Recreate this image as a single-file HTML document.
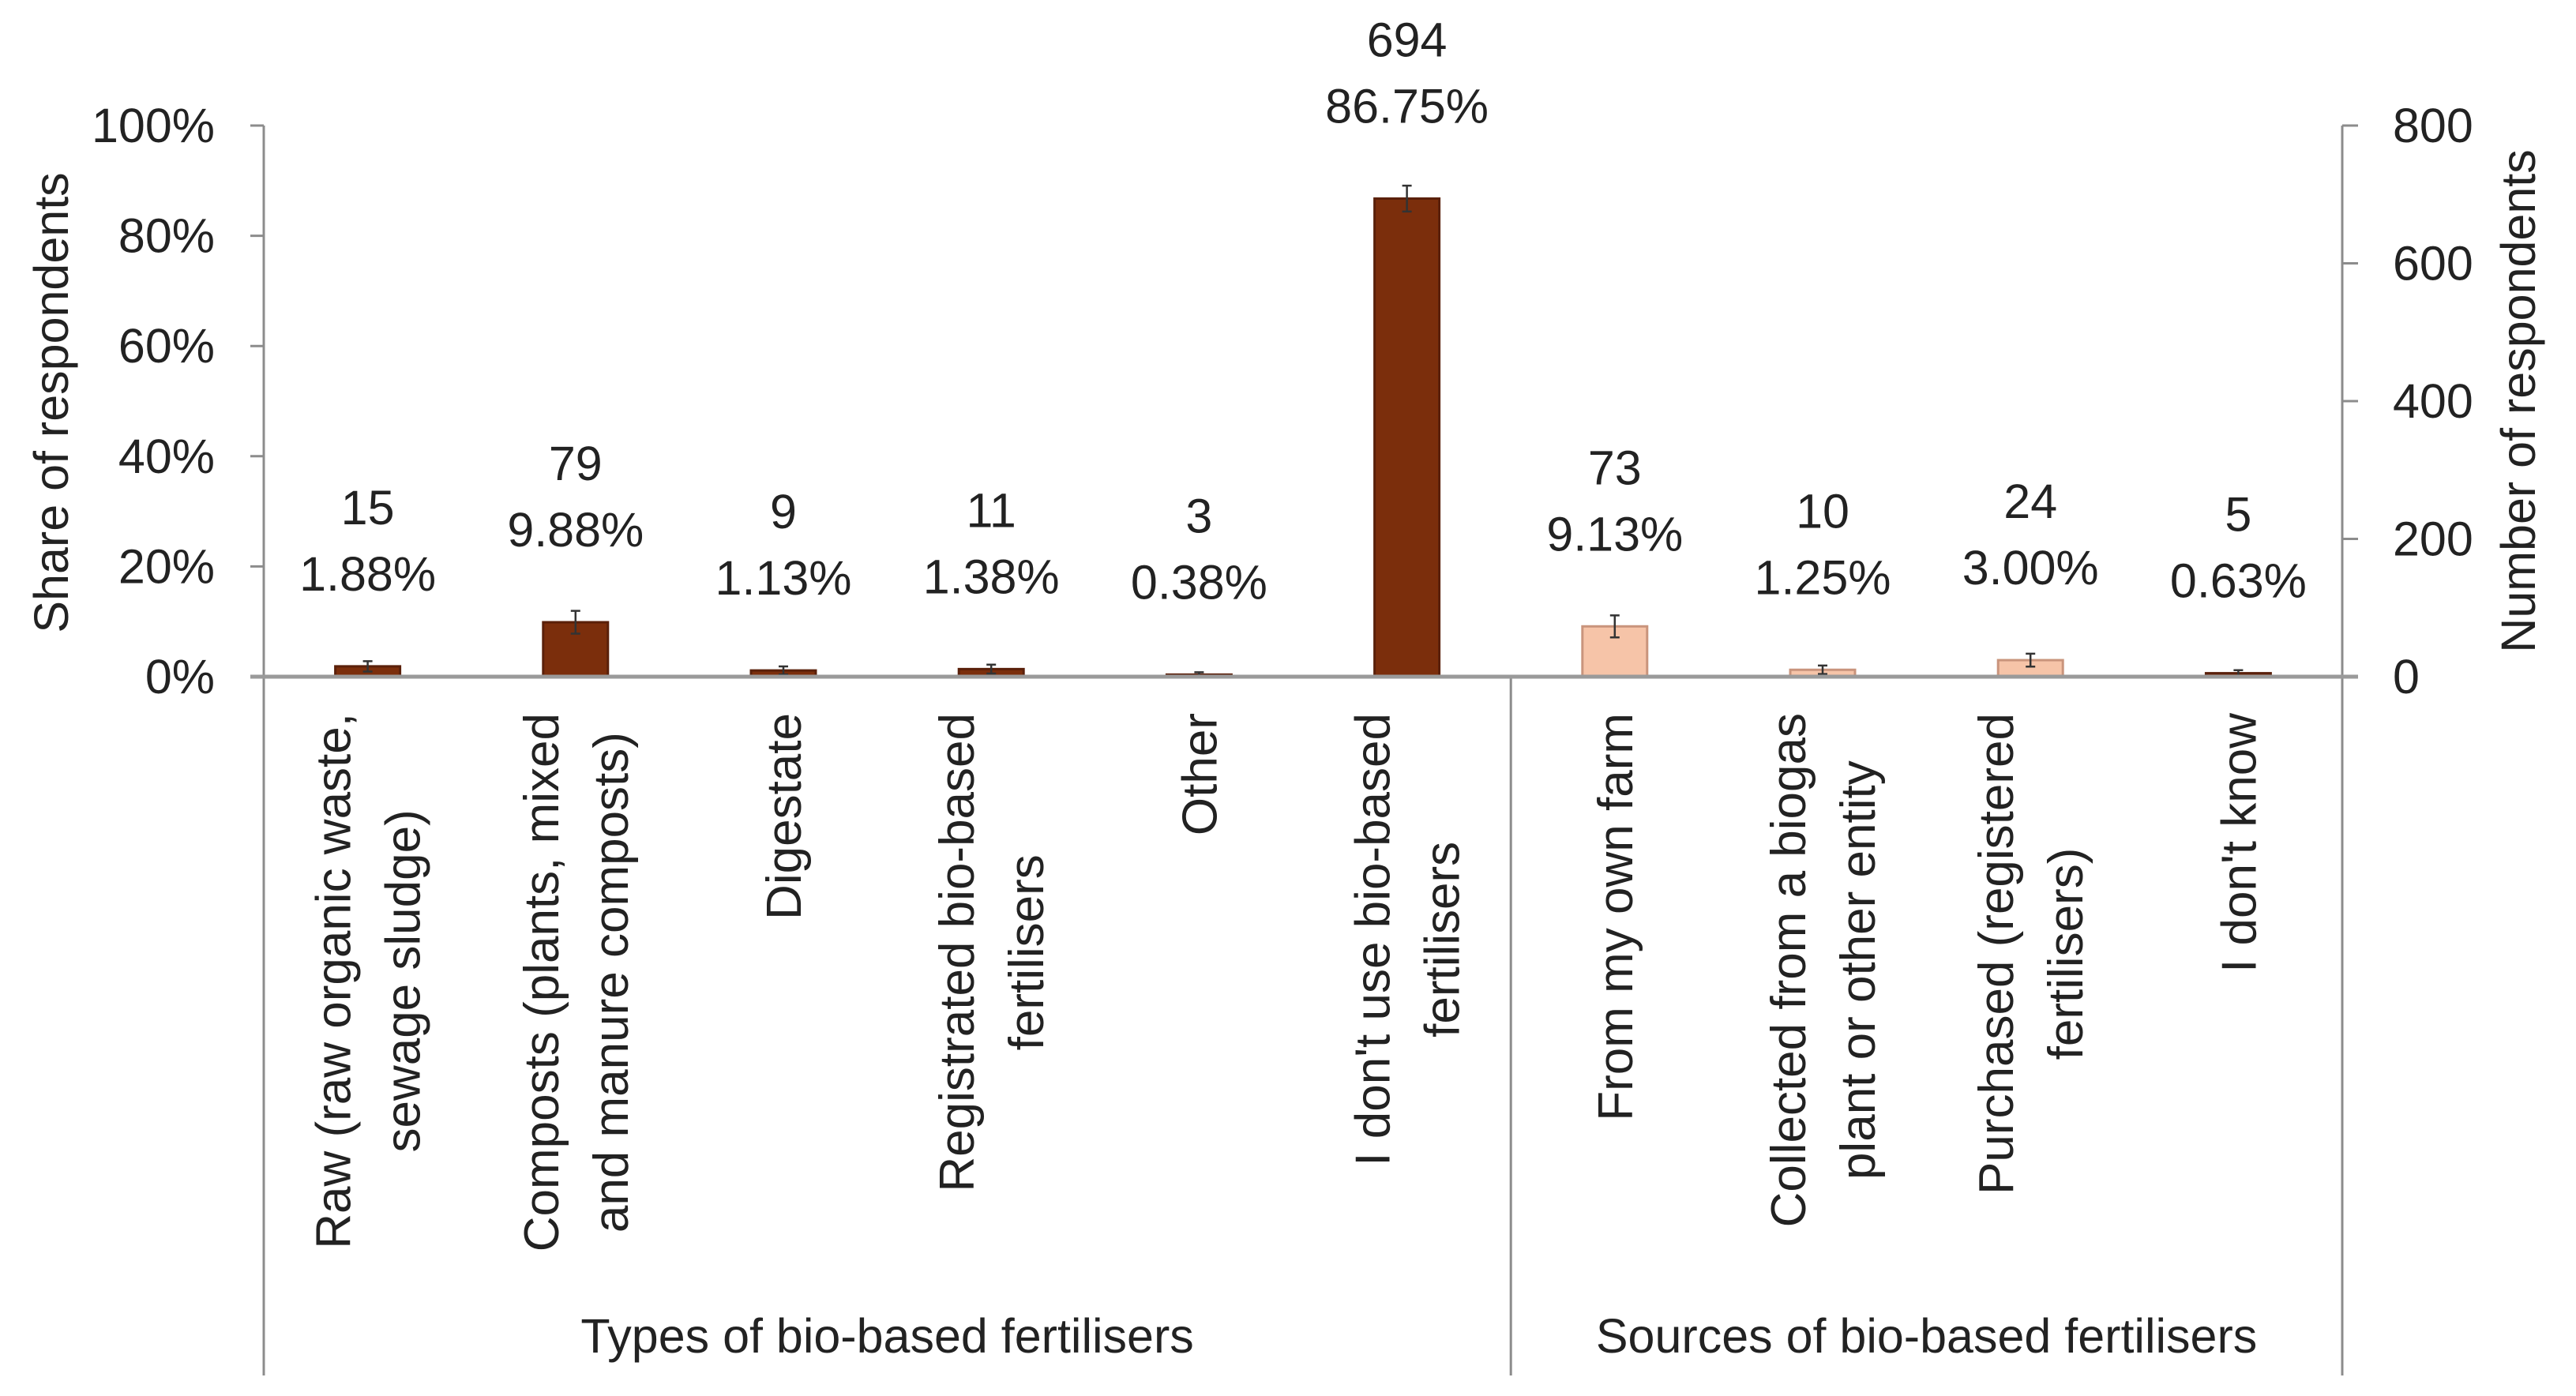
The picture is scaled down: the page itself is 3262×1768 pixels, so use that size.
<!DOCTYPE html>
<html><head><meta charset="utf-8"><style>
html,body{margin:0;padding:0;background:#fff;}
svg{display:block;font-family:"Liberation Sans",Arial,sans-serif;}
</style></head><body>
<svg id="chart" width="3262" height="1768" viewBox="0 0 3262 1768" xmlns="http://www.w3.org/2000/svg"></svg>
<script>
const categories = [
  ["Raw (raw organic waste,","sewage sludge)"],
  ["Composts (plants, mixed","and manure composts)"],
  ["Digestate"],
  ["Registrated bio-based","fertilisers"],
  ["Other"],
  ["I don't use bio-based","fertilisers"],
  ["From my own farm"],
  ["Collected from a biogas","plant or other entity"],
  ["Purchased (registered","fertilisers)"],
  ["I don't know"]
];
const counts = [15, 79, 9, 11, 3, 694, 73, 10, 24, 5];
const shares = [1.88, 9.88, 1.13, 1.38, 0.38, 86.75, 9.13, 1.25, 3.00, 0.63];
const shareLabels = ["1.88%","9.88%","1.13%","1.38%","0.38%","86.75%","9.13%","1.25%","3.00%","0.63%"];
const errors = [0.94, 2.07, 0.73, 0.81, 0.42, 2.35, 2.0, 0.77, 1.18, 0.55];
const seriesGroup = ["types","types","types","types","types","types","sources","sources","sources","dk"];
const leftTicks = [0, 20, 40, 60, 80, 100];
const leftTickLabels = ["0%","20%","40%","60%","80%","100%"];
const rightTicks = [0, 200, 400, 600, 800];
const groups = [["Types of bio-based fertilisers", 0, 6], ["Sources of bio-based fertilisers", 6, 10]];

const NS = "http://www.w3.org/2000/svg";
const svg = document.getElementById("chart");
const X0 = 334, X1 = 2966, Y0 = 857, YTOP = 159, YBOT = 1742;
const band = (X1 - X0) / categories.length;
const xC = i => X0 + band * (i + 0.5);
const yP = p => Y0 - p / 100 * (Y0 - YTOP);
const yN = n => Y0 - n / 800 * (Y0 - YTOP);

function el(tag, attrs, parent) {
  const e = document.createElementNS(NS, tag);
  for (const k in attrs) e.setAttribute(k, attrs[k]);
  (parent || svg).appendChild(e);
  return e;
}
function txt(s, attrs, parent) { const t = el("text", attrs, parent); t.textContent = s; return t; }

const axisCol = "#8c8c8c";
const la = el("line", {x1: X0, y1: YTOP, x2: X0, y2: YBOT, stroke: axisCol, "stroke-width": 3});


const ra = el("line", {x1: X1, y1: YTOP, x2: X1, y2: YBOT, stroke: axisCol, "stroke-width": 3});


const dv = el("line", {x1: X0 + band * 6, y1: Y0, x2: X0 + band * 6, y2: YBOT, stroke: axisCol, "stroke-width": 3});



leftTicks.forEach((v, i) => {
  const y = yP(v);
  const tk = el("line", {x1: X0 - 17, y1: y, x2: X0, y2: y, stroke: axisCol, "stroke-width": 3});
  
  
  const t = txt(leftTickLabels[i], {x: 272, y: y + 21, "font-size": 61, "text-anchor": "end", fill: "#222"});
  
  
});
rightTicks.forEach(v => {
  const y = yN(v);
  const tk = el("line", {x1: X1, y1: y, x2: X1 + 20, y2: y, stroke: axisCol, "stroke-width": 3});
  
  
  const t = txt(String(v), {x: 3030, y: y + 21, "font-size": 61, "text-anchor": "start", fill: "#222"});
  
  
});

shares.forEach((p, i) => {
  const cx = xC(i), w = 82, top = yP(p);
  const g = seriesGroup[i];
  const fill = g === "sources" ? "#f6c4a8" : "#7b2e0c";
  const stroke = g === "sources" ? "#c9947c" : "#5a200a";
  const r = el("rect", {x: cx - w / 2, y: top, width: w, height: Y0 - top, fill: fill, stroke: stroke, "stroke-width": 3});
  
  
  const e = errors[i];
  const eb = el("path", {d: `M${cx},${yP(p + e)}V${yP(Math.max(0, p - e))}M${cx - 6},${yP(p + e)}H${cx + 6}M${cx - 6},${yP(Math.max(0, p - e))}H${cx + 6}`, stroke: "#333", "stroke-width": 2.5, fill: "none"});
  
  
  const t1 = txt(String(counts[i]), {x: cx, y: top - 180, "font-size": 61, "text-anchor": "middle", fill: "#222"});
  
  
  const t2 = txt(shareLabels[i], {x: cx, y: top - 96, "font-size": 61, "text-anchor": "middle", fill: "#222"});
  
  
});

const zl = el("line", {x1: X0 - 17, y1: Y0, x2: X1 + 20, y2: Y0, stroke: "#9a9a9a", "stroke-width": 5});



categories.forEach((lines, i) => {
  const g = el("g", {transform: `translate(${xC(i)},903) rotate(-90)`});
  
  
  const ts = lines.map((s, j) => {
    const off = (j - (lines.length - 1) / 2) * 88 + 22;
    return txt(s, {x: 0, y: off, "font-size": 62, "text-anchor": "middle", fill: "#222"}, g);
  });
  const L = Math.max(...ts.map(t => t.getComputedTextLength()));
  ts.forEach(t => t.setAttribute("x", -L / 2));
});

groups.forEach(([name, a, b]) => {
  const cx = X0 + band * (a + b) / 2;
  const t = txt(name, {x: cx, y: 1713, "font-size": 61, "text-anchor": "middle", fill: "#222"});
  
  
});

const lt = txt("Share of respondents", {x: 0, y: 0, "font-size": 61, "text-anchor": "middle", fill: "#222", transform: "translate(86,510) rotate(-90)"});


const rt = txt("Number of respondents", {x: 0, y: 0, "font-size": 61, "text-anchor": "middle", fill: "#222", transform: "translate(3210,508) rotate(-90)"});


</script>
</body></html>
